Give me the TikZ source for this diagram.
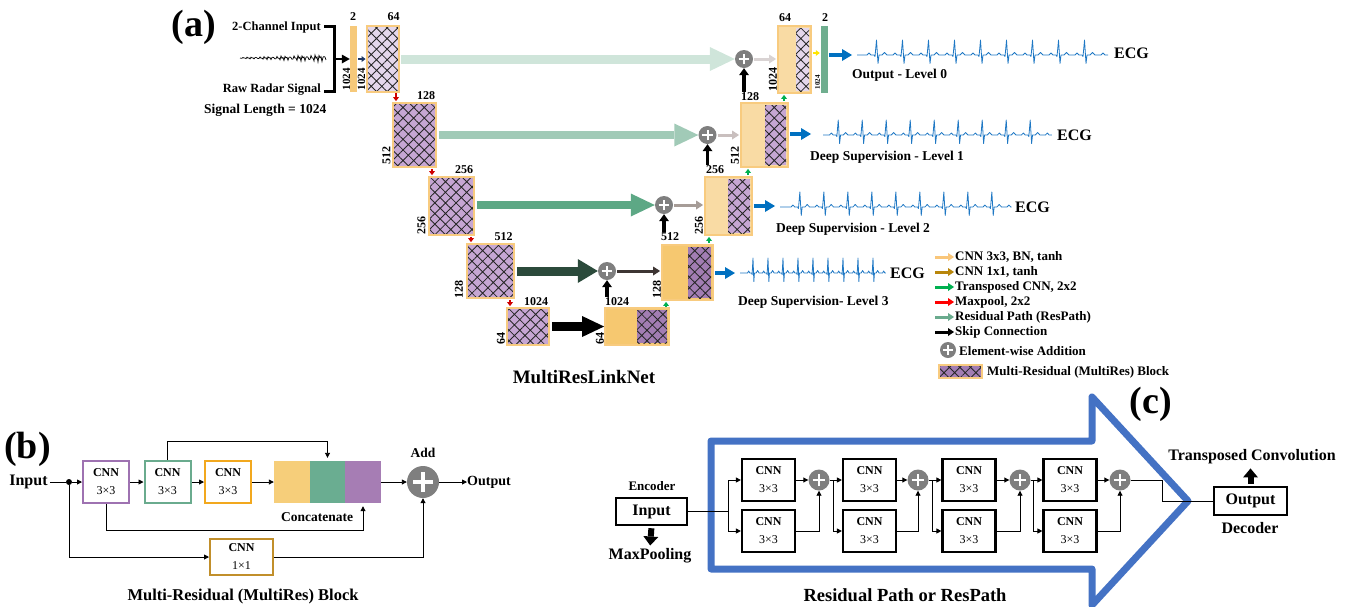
\documentclass[tikz,border=0pt]{standalone}
\usepackage{fontspec}
\setmainfont{Liberation Serif}
\usetikzlibrary{arrows.meta,patterns.meta,calc}
\definecolor{bor}{HTML}{F8CB7F}
\definecolor{lav0}{HTML}{E4D7EC}
\definecolor{lav1}{HTML}{C6A6D3}
\definecolor{lav2}{HTML}{A27DB3}
\definecolor{decl}{HTML}{F9DBA4}
\definecolor{decd}{HTML}{F6C870}
\definecolor{inbarc}{HTML}{F6C97A}
\definecolor{outbarc}{HTML}{6FAE8F}
\definecolor{rp0}{HTML}{CFE5DA}
\definecolor{rp1}{HTML}{A1CAB7}
\definecolor{rp2}{HTML}{5DA885}
\definecolor{rp3}{HTML}{2B4A3B}
\definecolor{gr0}{HTML}{D9D3D3}
\definecolor{gr1}{HTML}{C9BFBE}
\definecolor{gr2}{HTML}{A69C97}
\definecolor{gr3}{HTML}{3D3533}
\definecolor{ecgc}{HTML}{1F78C4}
\definecolor{bluea}{HTML}{0070C0}
\definecolor{tgreen}{HTML}{00B050}
\definecolor{mred}{HTML}{D00000}
\definecolor{plusg}{HTML}{7F7F7F}
\definecolor{cpur}{HTML}{A67DB4}
\definecolor{cteal}{HTML}{6AAD91}
\definecolor{corg}{HTML}{F6CE7A}
\definecolor{bpur}{HTML}{9E72B1}
\definecolor{bteal}{HTML}{6AAB8E}
\definecolor{borg}{HTML}{F2A81E}
\definecolor{bgold}{HTML}{C18F2B}
\definecolor{bigblue}{HTML}{4472C4}
\definecolor{leg1}{HTML}{F9C67A}
\definecolor{leg2}{HTML}{B8860B}
\definecolor{navyc}{HTML}{1F3864}
\definecolor{yelc}{HTML}{FFE500}
\newcommand\ecgwave[6]{%
  \begin{scope}[shift={(#1,#2)}]
  \begin{scope}[xscale=#3]
  \draw[ecgline] (0,0) -- (#5,0) \foreach \k in {1,...,#4}{ -- ++(3,0) -- ++(2,-2) -- ++(2,2) -- ++(3,0) -- ++(1,1.5) -- ++(1.5,-16.5) -- ++(1.5,23.5) -- ++(1,-8.5) -- ++(3,0) -- ++(2.5,-2.5) -- ++(2.5,2.5) -- ++(3,0)} -- ++(3,0) -- ++(2,-2) -- ++(2,2) -- ++(#6,0);
  \end{scope}\end{scope}}
\begin{document}
\begin{tikzpicture}[x=1pt,y=-1pt,
  hatch/.style={pattern={Hatch[angle=45,distance=7.5pt,line width=0.85pt]}, pattern color=black!85},
  enc/.style={draw=bor, line width=1.8pt, hatch, preaction={fill=#1}, inner sep=0pt},
  dec/.style={draw=bor, line width=1.8pt, fill=#1, inner sep=0pt},
  dech/.style={hatch, preaction={fill=#1}, inner sep=0pt, draw=none},
  bar/.style={fill=#1, inner sep=0pt, draw=none},
  plus/.style 2 args={circle, fill=plusg, minimum size=#1pt, inner sep=0pt, draw=none,
    path picture={\draw[white, line width=#2pt]
      ([xshift={-0.3*#1}]path picture bounding box.center) -- ([xshift={0.3*#1}]path picture bounding box.center)
      ([yshift={-0.3*#1}]path picture bounding box.center) -- ([yshift={0.3*#1}]path picture bounding box.center);}},
  fatarr/.style n args={5}{draw=#1, line width=#2pt, -{Triangle[length=#3pt,width=#4pt,line width=0pt]}, shorten <=#5pt},
  sarr/.style={draw=#1, line width=2.2pt, -{Triangle[length=4pt,width=6pt,line width=0pt]}, shorten <=1pt, shorten >=1pt},
  garr/.style={draw=#1, line width=3pt, -{Triangle[length=7pt,width=9pt,line width=0pt]}, shorten <=1pt, shorten >=1pt},
  skarr/.style={draw=black, line width=3.5pt, -{Triangle[length=7pt,width=10pt,line width=0pt]}},
  barr/.style={draw=bluea, line width=3.5pt, -{Triangle[length=10pt,width=12pt,line width=0pt]}, shorten <=1pt},
  legarr/.style={draw=#1, line width=3pt, -{Triangle[length=6pt,width=8pt,line width=0pt]}, shorten >=1pt},
  tarr/.style={line width=0.9pt, -{Triangle[length=5pt,width=5pt]}},
  tline/.style={line width=0.9pt},
  ecgline/.style={draw=ecgc, line width=0.8pt, line join=round},
  lab/.style={font=\fontsize{12}{12}\selectfont\bfseries, inner sep=0pt},
  rlab/.style={lab, rotate=90},
  tx/.style={font=\fontsize{13.5}{14}\selectfont\bfseries, inner sep=0pt},
  ecgt/.style={font=\fontsize{16}{16}\selectfont\bfseries, inner sep=0pt, anchor=west},
  leg/.style={font=\fontsize{13}{13}\selectfont\bfseries, inner sep=0pt, anchor=west},
  big/.style={font=\fontsize{38}{38}\selectfont\bfseries, inner sep=0pt},
  bbox/.style={draw=#1, line width=2pt, minimum width=46pt, minimum height=42pt, inner sep=0pt, align=center, font=\fontsize{12}{18}\selectfont},
  cbox/.style={draw=black, line width=2.2pt, minimum width=53pt, minimum height=42pt, inner sep=0pt, align=center, font=\fontsize{12}{18}\selectfont},
  fatblk/.style={draw=black, line width=6pt, -{Triangle[length=9pt,width=15pt,line width=0pt]}}
]
\useasboundingbox (0,0) rectangle (1348,606);

% ================= (a) =================
\node[big] (la) at (194,27) {(a)};
\node[tx, font=\fontsize{12.5}{13}\selectfont\bfseries, anchor=east] (tin) at (321,27) {2-Channel Input};
\node[tx, font=\fontsize{12.5}{13}\selectfont\bfseries, anchor=east] (traw) at (321,90) {Raw Radar Signal};
\node[tx, anchor=west] (tlen) at (204,110) {Signal Length = 1024};
\coordinate (btl) at (324,26);
\coordinate (bt) at (334,26);
\coordinate (bb) at (334,91);
\coordinate (bbl) at (324,91);
\coordinate (bm) at (334,59);
\draw[line width=3pt, line join=miter] (btl) -- (bt) -- (bb) -- (bbl);
\draw[line width=0.7pt] plot[domain=0:86, samples=87] ({240+\x},{58+(0.6+\x/22)*sin(\x*137.5)*cos(\x*53)});

\node[bar=inbarc, minimum width=7pt, minimum height=66pt] (inbar) at (353.5,59) {};
\draw[line width=1.5pt, -{Triangle[length=8pt,width=9pt,line width=0pt]}] (bm) -- (inbar.west);

% encoder blocks
\node[enc=lav0, minimum width=32pt, minimum height=66pt] (e0) at (383,59) {};
\node[enc=lav1, minimum width=43pt, minimum height=64pt] (e1) at (414.5,135) {};
\node[enc=lav1, minimum width=45pt, minimum height=58pt] (e2) at (451.5,206) {};
\node[enc=lav1, minimum width=47pt, minimum height=54pt] (e3) at (490.5,271) {};
\node[enc=lav1, minimum width=42pt, minimum height=37pt] (e4) at (528,326.5) {};

% decoder blocks
\node[dec=decl, minimum width=33pt, minimum height=67pt] (d0) at (794.5,59.5) {};
\node[dech=lav0, minimum width=13pt, minimum height=63pt] (d0h) at (802.5,59.5) {};
\node[dec=decl, minimum width=47pt, minimum height=64pt] (d1) at (764.5,135) {};
\node[dech=lav1, minimum width=21pt, minimum height=60pt] (d1h) at (775.5,135) {};
\node[dec=decl, minimum width=47pt, minimum height=58pt] (d2) at (728.5,206) {};
\node[dech=lav1, minimum width=22pt, minimum height=54pt] (d2h) at (739,206) {};
\node[dec=decd, minimum width=51pt, minimum height=55pt] (d3) at (687.5,272.5) {};
\node[dech=lav2, minimum width=23pt, minimum height=51pt] (d3h) at (699.5,272.5) {};
\node[dec=decd, minimum width=64pt, minimum height=37pt] (d4) at (637,326.5) {};
\node[dech=lav2, minimum width=30pt, minimum height=33pt] (d4h) at (652,326.5) {};

\node[bar=outbarc, minimum width=7pt, minimum height=67pt] (obar) at (824.5,59.5) {};

% plus nodes
\node[plus={18}{2}] (p0) at (744,59) {};
\node[plus={18}{2}] (p1) at (707.5,135) {};
\node[plus={18}{2}] (p2) at (664,205) {};
\node[plus={18}{2}] (p3) at (607,271) {};

% labels encoder
\node[lab] (l2) at (353,17) {2};
\node[lab] (le0) at (393.5,17) {64};
\node[lab] (le1) at (426,96) {128};
\node[lab] (le2) at (464,170) {256};
\node[lab] (le3) at (503.5,237) {512};
\node[lab] (le4) at (536,302) {1024};
\node[rlab, font=\fontsize{11}{11}\selectfont\bfseries] (re0a) at (346.5,79) {1024};
\node[rlab, font=\fontsize{11}{11}\selectfont\bfseries] (re0b) at (361.5,79) {1024};
\node[rlab] (re1) at (386.5,155) {512};
\node[rlab] (re2) at (421.5,225) {256};
\node[rlab] (re3) at (459,289) {128};
\node[rlab] (re4) at (501,338) {64};

% labels decoder
\node[lab] (ld0) at (785,18) {64};
\node[lab] (lo2) at (825,18) {2};
\node[lab] (ld1) at (750,97) {128};
\node[lab] (ld2) at (715,170) {256};
\node[lab] (ld3) at (670,237) {512};
\node[lab] (ld4) at (617,302) {1024};
\node[rlab] (rd0) at (773,79) {1024};
\node[rlab, font=\fontsize{7}{7}\selectfont\bfseries] (rd0b) at (817.5,82) {1024};
\node[rlab] (rd1) at (735,155) {512};
\node[rlab] (rd2) at (699,225) {256};
\node[rlab] (rd3) at (657,289) {128};
\node[rlab] (rd4) at (600,338) {64};

% small arrows
\draw[sarr=navyc] (inbar.east) -- (e0.west);
\draw[sarr=mred] (396,0 |- e0.south) -- (396,0 |- e1.north);
\draw[sarr=mred] (432,0 |- e1.south) -- (432,0 |- e2.north);
\draw[sarr=mred] (471,0 |- e2.south) -- (471,0 |- e3.north);
\draw[sarr=mred] (510,0 |- e3.south) -- (510,0 |- e4.north);
\draw[sarr=tgreen] (784,0 |- d1.north) -- (784,0 |- d0.south);
\draw[sarr=tgreen] (748,0 |- d2.north) -- (748,0 |- d1.south);
\draw[sarr=tgreen] (709,0 |- d3.north) -- (709,0 |- d2.south);
\draw[sarr=tgreen] (666,0 |- d4.north) -- (666,0 |- d3.south);
\draw[sarr=yelc] (812,53) coordinate (yst) -- (obar.west |- yst);

% fat respath arrows
\draw[fatarr={rp0}{9}{25}{24}{2}] (e0.east) -- (p0.west);
\draw[fatarr={rp1}{8}{24}{23}{2}] (e1.east |- p1) -- (p1.west);
\draw[fatarr={rp2}{8}{24}{23}{2}] (e2.east |- p2) -- (p2.west);
\draw[fatarr={rp3}{9}{20}{24}{2}] (e3.east) -- (p3.west);
\draw[fatarr={black}{9}{22}{21}{2}] (e4.east) -- (d4.west);

% plus -> decoder
\draw[garr=gr0] (p0.east) -- (d0.west |- p0);
\draw[garr=gr1] (p1.east) -- (d1.west |- p1);
\draw[garr=gr2] (p2.east) -- (d2.west |- p2);
\draw[garr=gr3] (p3.east) -- (d3.west |- p3);

% skip connections up into plus
\draw[skarr] ([yshift=1pt]p0.south |- ld1.north) -- (p0.south);
\draw[skarr] ([yshift=1pt]p1.south |- ld2.north) -- (p1.south);
\draw[skarr] ([yshift=1pt]p2.south |- ld3.north) -- (p2.south);
\draw[skarr] ([yshift=1pt]p3.south |- ld4.north) -- (p3.south);

% outputs
\coordinate (ecg0s) at (852,55);
\coordinate (ecg1s) at (811,134);
\coordinate (ecg2s) at (775,206);
\coordinate (ecg3s) at (735,273);
\draw[barr] (obar.east |- ecg0s) -- (ecg0s);
\draw[barr] (d1.east |- ecg1s) -- (ecg1s);
\draw[barr] (d2.east |- ecg2s) -- (ecg2s);
\draw[barr] (d3.east |- ecg3s) -- (ecg3s);

\ecgwave{857}{55}{1}{9}{7}{3}
\ecgwave{823}{135}{0.923}{9}{4}{3}
\ecgwave{780}{207}{0.923}{9}{9}{1}
\ecgwave{740}{273}{0.577}{9}{10}{2}

\node[ecgt] (ecg0) at (1114,53) {ECG};
\node[ecgt] (ecg1) at (1057,135) {ECG};
\node[ecgt] (ecg2) at (1015,207) {ECG};
\node[ecgt] (ecg3) at (890,273) {ECG};
\node[tx, anchor=west] (o0) at (852,75) {Output - Level 0};
\node[tx, anchor=west] (o1) at (810,157) {Deep Supervision - Level 1};
\node[tx, anchor=west] (o2) at (776,229) {Deep Supervision - Level 2};
\node[tx, anchor=west] (o3) at (738,302) {Deep Supervision- Level 3};

\node[font=\fontsize{19}{19}\selectfont\bfseries, inner sep=0pt] (mrl) at (584,377) {MultiResLinkNet};

% legend
\coordinate (lg1s) at (935,257);
\coordinate (lg2s) at (935,272);
\coordinate (lg3s) at (935,287);
\coordinate (lg4s) at (935,302);
\coordinate (lg5s) at (935,317);
\coordinate (lg6s) at (935,332);
\node[leg] (lg1) at (955,257) {CNN 3x3, BN, tanh};
\node[leg] (lg2) at (955,272) {CNN 1x1, tanh};
\node[leg] (lg3) at (955,287) {Transposed CNN, 2x2};
\node[leg] (lg4) at (955,302) {Maxpool, 2x2};
\node[leg] (lg5) at (955,317) {Residual Path (ResPath)};
\node[leg] (lg6) at (955,332) {Skip Connection};
\draw[legarr=leg1] (lg1s) -- (lg1.west);
\draw[legarr=leg2] (lg2s) -- (lg2.west);
\draw[legarr=tgreen] (lg3s) -- (lg3.west);
\draw[legarr=red] (lg4s) -- (lg4.west);
\draw[legarr=bteal] (lg5s) -- (lg5.west);
\draw[legarr=black] (lg6s) -- (lg6.west);
\node[plus={16}{2}] (lgp) at (948,350) {};
\node[leg] (lgpt) at (959,351) {Element-wise Addition};
\node[enc=lav2, minimum width=43pt, minimum height=13pt] (lgb) at (960.5,371.5) {};
\node[leg] (lgbt) at (987,372) {Multi-Residual (MultiRes) Block};

% ================= (b) =================
\node[big] (lb) at (27.5,449) {(b)};
\node[font=\fontsize{16}{16}\selectfont\bfseries, inner sep=2pt] (inb) at (28.5,482) {Input};
\node[circle, fill=black, minimum size=6pt, inner sep=0pt] (dot) at (69,482) {};
\node[bbox=bpur] (b1) at (106,482) {\bfseries CNN\\3×3};
\node[bbox=bteal] (b2) at (167.5,482) {\bfseries CNN\\3×3};
\node[bbox=borg] (b3) at (228,482) {\bfseries CNN\\3×3};
\node[fill=corg, minimum width=36pt, minimum height=42pt, inner sep=0pt] (c1) at (292,482) {};
\node[fill=cteal, minimum width=35pt, minimum height=42pt, inner sep=0pt] (c2) at (327.5,482) {};
\node[fill=cpur, minimum width=36pt, minimum height=42pt, inner sep=0pt] (c3) at (363,482) {};
\node[plus={32}{3.5}] (pb) at (423,482) {};
\node[font=\fontsize{13.5}{14}\selectfont\bfseries, inner sep=0pt] (addt) at (423,453) {Add};
\node[font=\fontsize{14}{14}\selectfont\bfseries, inner sep=0pt, anchor=west] (outb) at (467,482) {Output};
\node[font=\fontsize{13.5}{14}\selectfont\bfseries, inner sep=0pt] (cct) at (317,517) {Concatenate};
\node[bbox=bgold, minimum width=63pt, minimum height=36pt] (b4) at (241.5,557) {\bfseries CNN\\1×1};
\node[font=\fontsize{16.5}{17}\selectfont\bfseries, inner sep=0pt] (tb) at (243,597) {Multi-Residual (MultiRes) Block};

\draw[tline] (inb.east) -- (dot);
\draw[tarr] (dot) -- (b1.west);
\draw[tarr] (b1.east) -- (b2.west);
\draw[tarr] (b2.east) -- (b3.west);
\draw[tarr] (b3.east) -- (c1.west);
\draw[tarr] (c3.east) -- (pb.west);
\draw[tarr] (pb.east) -- (outb.west);
\draw[tarr, shorten >=3pt] (b2.north) -- ++(0,-19) -| (c2.north);
\draw[tarr, shorten >=3pt] (b1.south) -- ++(0,26) -| (c3.south);
\draw[tarr] (dot) |- (b4.west);
\draw[tarr] (b4.east) -| (pb.south);

% ================= (c) =================
\draw[bigblue, line width=7pt, line join=round] (711,441) -- (1092,441) -- (1092,397) -- (1188,501) -- (1092,605) -- (1092,569) -- (711,569) -- cycle;
\node[big] (lc) at (1151,404) {(c)};

\node[draw=black, line width=2.5pt, minimum width=71pt, minimum height=27pt, inner sep=0pt, font=\fontsize{16}{16}\selectfont\bfseries] (ci) at (651.5,511.5) {Input};
\node[font=\fontsize{13}{13}\selectfont\bfseries, inner sep=0pt] (enct) at (652,486) {Encoder};
\node[font=\fontsize{16}{16}\selectfont\bfseries, inner sep=0pt] (mp) at (650,556) {MaxPooling};
\draw[fatblk, shorten <=2pt, shorten >=3pt] (ci.south) -- (mp.north);

\node[cbox] (t1) at (768.5,480) {\bfseries CNN\\3×3};
\node[cbox] (u1) at (768.5,531) {\bfseries CNN\\3×3};
\node[cbox] (t2) at (869.5,480) {\bfseries CNN\\3×3};
\node[cbox] (u2) at (869.5,531) {\bfseries CNN\\3×3};
\node[cbox] (t3) at (969,480) {\bfseries CNN\\3×3};
\node[cbox] (u3) at (969,531) {\bfseries CNN\\3×3};
\node[cbox] (t4) at (1070,480) {\bfseries CNN\\3×3};
\node[cbox] (u4) at (1070,531) {\bfseries CNN\\3×3};
\node[plus={21}{2.4}] (q1) at (819,480) {};
\node[plus={21}{2.4}] (q2) at (918,480) {};
\node[plus={21}{2.4}] (q3) at (1020,480) {};
\node[plus={21}{2.4}] (q4) at (1120,480) {};

\coordinate (s1) at (728,511.5);
\coordinate (s2) at (833,480);
\coordinate (s3) at (932,480);
\coordinate (s4) at (1033,480);
\coordinate (s5) at (1162,480);

\draw[tline] (ci.east) -- (s1);
\draw[tarr] (s1) |- (t1.west);
\draw[tarr] (s1) |- (u1.west);
\draw[tline] (q1.east) -- (s2);
\draw[tarr] (s2) -- (t2.west);
\draw[tarr] (s2) |- (u2.west);
\draw[tline] (q2.east) -- (s3);
\draw[tarr] (s3) -- (t3.west);
\draw[tarr] (s3) |- (u3.west);
\draw[tline] (q3.east) -- (s4);
\draw[tarr] (s4) -- (t4.west);
\draw[tarr] (s4) |- (u4.west);
\draw[tarr] (t1.east) -- (q1.west);
\draw[tarr] (u1.east) -| (q1.south);
\draw[tarr] (t2.east) -- (q2.west);
\draw[tarr] (u2.east) -| (q2.south);
\draw[tarr] (t3.east) -- (q3.west);
\draw[tarr] (u3.east) -| (q3.south);
\draw[tarr] (t4.east) -- (q4.west);
\draw[tarr] (u4.east) -| (q4.south);

\node[draw=black, line width=2.5pt, minimum width=73pt, minimum height=28pt, inner sep=0pt, font=\fontsize{16}{16}\selectfont\bfseries] (co) at (1250.5,501) {Output};
\draw[tline] (q4.east) -- (s5) |- (co.west);
\node[font=\fontsize{16}{16}\selectfont\bfseries, inner sep=0pt] (dect) at (1250,528) {Decoder};
\node[font=\fontsize{16}{16}\selectfont\bfseries, inner sep=0pt] (tct) at (1252,457) {Transposed Convolution};
\draw[fatblk, shorten <=2pt, shorten >=4pt] (co.north) -- (co.north |- tct.south);
\node[font=\fontsize{18.5}{19}\selectfont\bfseries, inner sep=0pt] (rpt) at (905,595) {Residual Path or ResPath};
\end{tikzpicture}
\end{document}
